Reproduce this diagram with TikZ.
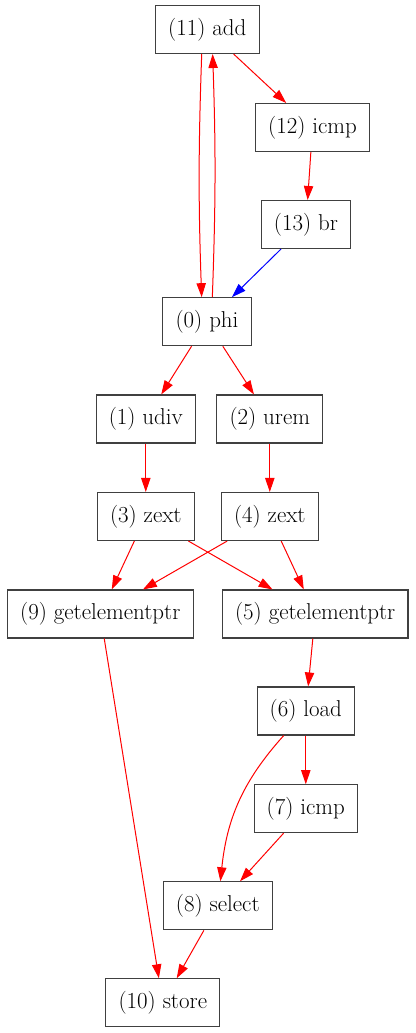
\documentclass[tikz,border=0pt]{standalone}
\usetikzlibrary{arrows.meta}

\begin{document}
\begin{tikzpicture}[x=0.75pt,y=0.75pt]

\tikzset{InstrBox/.style={draw=black!75, line width=0.8pt, rectangle, minimum height=36pt, inner xsep=9.5pt, font=\fontsize{17.2}{21}\selectfont}};
\tikzset{DataEdge/.style={red, line width=0.75pt, -{Triangle[length=10.5pt,width=7pt]}}};
\tikzset{CtrlEdge/.style={DataEdge, blue}};

\useasboundingbox (0,0) rectangle (416,-1033);

% loop header
\node[InstrBox] (add) at (207.3,-29.5) {(11) add};
\node[InstrBox] (icmpA) at (312.5,-127.5) {(12) icmp};
\node[InstrBox] (br) at (306,-224.5) {(13) br};
\node[InstrBox] (phi) at (207,-321.7) {(0) phi};

% body
\node[InstrBox] (udiv) at (145.8,-419) {(1) udiv};
\node[InstrBox] (urem) at (269.8,-419) {(2) urem};
\node[InstrBox] (zextA) at (145.8,-516.5) {(3) zext};
\node[InstrBox] (zextB) at (269.8,-516.5) {(4) zext};
\node[InstrBox] (gepA) at (100.3,-614) {(9) getelementptr};
\node[InstrBox] (gepB) at (315.2,-614) {(5) getelementptr};
\node[InstrBox] (load) at (305.8,-711) {(6) load};
\node[InstrBox] (icmpB) at (305.8,-808.7) {(7) icmp};
\node[InstrBox] (select) at (217.8,-905.8) {(8) select};
\node[InstrBox] (store) at (162.8,-1002.8) {(10) store};

\draw[DataEdge] ([xshift=-4.2pt]add.south) to[bend right=2] ([xshift=-4pt]phi.north);
\draw[DataEdge] ([xshift=4pt]phi.north) to[bend right=2] ([xshift=4pt]add.south);
\draw[DataEdge] (add) -- (icmpA);
\draw[DataEdge] (icmpA) -- (br);
\draw[CtrlEdge] (br) -- (phi);

\draw[DataEdge] (phi) -- (udiv);
\draw[DataEdge] (phi) -- (urem);
\draw[DataEdge] (udiv) -- (zextA);
\draw[DataEdge] (urem) -- (zextB);
\draw[DataEdge] (zextA) -- (gepA);
\draw[DataEdge] (zextA) -- (gepB);
\draw[DataEdge] (zextB) -- (gepA);
\draw[DataEdge] (zextB) -- (gepB);

\draw[DataEdge] (gepB) -- (load);
\draw[DataEdge] (load) -- (icmpB);
\draw[DataEdge] (load) to[out=-132,in=84] (select);
\draw[DataEdge] (icmpB) -- (select);
\draw[DataEdge] (gepA) -- (store);
\draw[DataEdge] (select) -- (store);
%\draw[DataEdge] (select) -- (gepA);

\end{tikzpicture}
\end{document}
